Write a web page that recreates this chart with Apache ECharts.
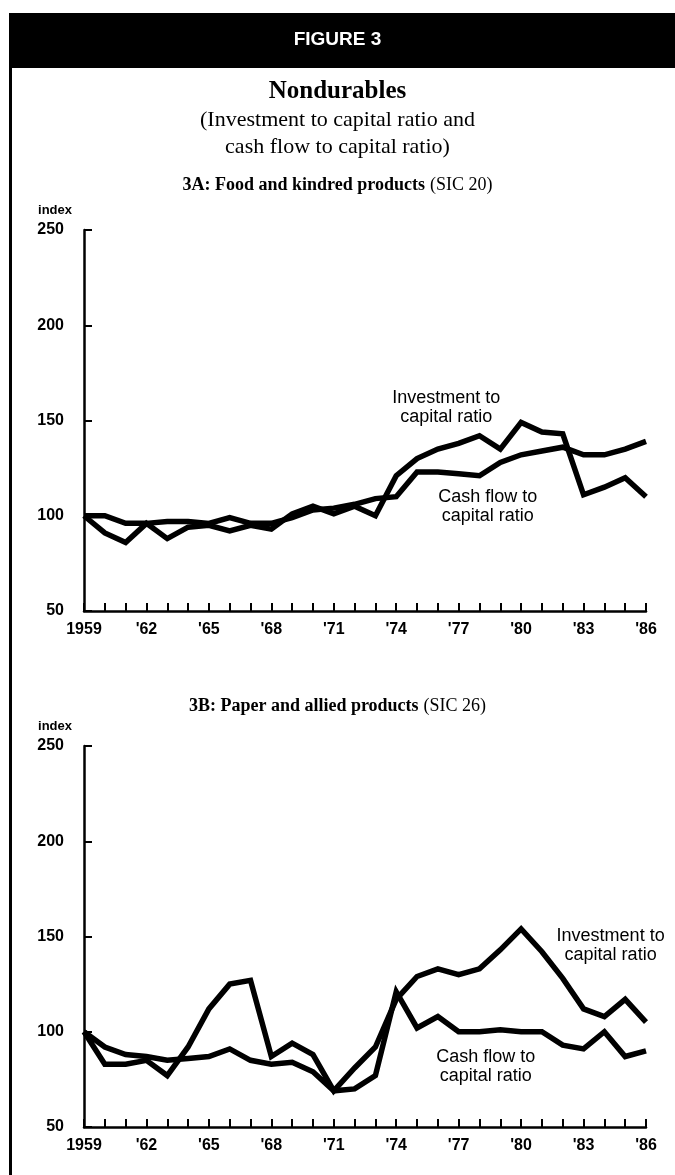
<!DOCTYPE html>
<html>
<head>
<meta charset="utf-8">
<script src="https://cdn.jsdelivr.net/npm/echarts@6/dist/echarts.min.js"></script>
<style>
  html, body { margin: 0; padding: 0; background: #fff; }
  #chart { width: 675px; height: 1175px; }
</style>
</head>
<body>
<div id="chart"></div>
<script>
// years on the x axis
const years = [1959, 1960, 1961, 1962, 1963, 1964, 1965, 1966, 1967, 1968,
  1969, 1970, 1971, 1972, 1973, 1974, 1975, 1976, 1977, 1978,
  1979, 1980, 1981, 1982, 1983, 1984, 1985, 1986]
const xLabelYears = [1959, 1962, 1965, 1968, 1971, 1974, 1977, 1980, 1983, 1986]
const xLabels = ['1959', "'62", "'65", "'68", "'71", "'74", "'77", "'80", "'83", "'86"]

// 3A: Food and kindred products
const foodInvest = [100, 91, 86, 96, 88, 94, 95, 92, 95, 93, 101, 105, 101, 105, 100,
  121, 130, 135, 138, 142, 135, 149, 144, 143, 111, 115, 120, 110]
const foodCash = [100, 100, 96, 96, 97, 97, 96, 99, 96, 96, 99, 103, 104, 106, 109,
  110, 123, 123, 122, 121, 128, 132, 134, 136, 132, 132, 135, 139]

// 3B: Paper and allied products
const paperInvest = [100, 83, 83, 85, 77, 92, 112, 125, 127, 87, 94, 88, 69, 81, 92,
  117, 129, 133, 130, 133, 143, 154, 142, 128, 112, 108, 117, 105]
const paperCash = [100, 92, 88, 87, 85, 86, 87, 91, 85, 83, 84, 79, 69, 70, 77,
  121, 102, 108, 100, 100, 101, 100, 100, 93, 91, 100, 87, 90]

// where the inline series labels sit, [year, index]
const investLabelAt = [[1976.4, 157], [1984.3, 145]]
const cashLabelAt = [[1978.4, 105], [1978.3, 82]]

const sans = '"Liberation Sans", Arial, Helvetica, sans-serif'
const serif = '"Liberation Serif", "Times New Roman", serif'

const chart = echarts.init(document.getElementById('chart'))

const pairs = (vals) => years.map((y, i) => [y, vals[i]])

const gridTops = [230, 746]
const gridHeight = 381

const xAxisFor = (i) => ({
  type: 'value',
  gridIndex: i,
  min: 1959,
  max: 1986,
  interval: 1,
  splitLine: { show: false },
  axisLine: { lineStyle: { color: '#000', width: 2.5 } },
  axisTick: { inside: true, length: 8, lineStyle: { color: '#000', width: 2 } },
  axisLabel: {
    color: '#000',
    fontFamily: sans,
    fontWeight: 'bold',
    fontSize: 16,
    margin: 11,
    formatter: (v) => {
      const k = xLabelYears.indexOf(v)
      return k < 0 ? '' : xLabels[k]
    },
  },
})

const yAxisFor = (i) => ({
  type: 'value',
  gridIndex: i,
  min: 50,
  max: 250,
  interval: 50,
  name: 'index',
  nameLocation: 'end',
  nameGap: 20,
  nameTextStyle: {
    color: '#000',
    fontFamily: sans,
    fontWeight: 'bold',
    fontSize: 13,
    align: 'right',
    verticalAlign: 'middle',
    padding: [0, 12, 0, 0],
  },
  splitLine: { show: false },
  axisLine: { onZero: false, lineStyle: { color: '#000', width: 2.5 } },
  axisTick: { inside: true, length: 8, lineStyle: { color: '#000', width: 2 } },
  axisLabel: {
    color: '#000',
    fontFamily: sans,
    fontWeight: 'bold',
    fontSize: 16,
    margin: 20,
  },
})

const lineLabel = (text) => ({
  show: true,
  position: 'inside',
  formatter: text,
  color: '#000',
  fontFamily: sans,
  fontSize: 18,
  lineHeight: 19,
  align: 'center',
})

const makeSeries = (i, vals, text, at) => ({
  type: 'line',
  xAxisIndex: i,
  yAxisIndex: i,
  data: pairs(vals),
  symbol: 'none',
  clip: false,
  lineStyle: { color: '#000', width: 5.5, join: 'miter', cap: 'butt' },
  markPoint: {
    symbol: 'rect',
    symbolSize: 1,
    silent: true,
    itemStyle: { color: 'rgba(0,0,0,0)' },
    label: lineLabel(text),
    data: [{ coord: at }],
  },
})

const titleLine = (text, top, rich) => ({
  text,
  left: 'center',
  top,
  padding: 0,
  textStyle: { rich },
})

const serifRich = (size) => ({
  b: { fontFamily: serif, fontWeight: 'bold', fontSize: size, color: '#000' },
  r: { fontFamily: serif, fontWeight: 'normal', fontSize: size, color: '#000' },
})

chart.setOption({
  animation: false,
  backgroundColor: '#fff',
  graphic: [
    { type: 'rect', left: 9, top: 13, shape: { width: 666, height: 55 }, style: { fill: '#000' } },
    { type: 'rect', left: 9, top: 13, shape: { width: 3, height: 1162 }, style: { fill: '#000' } },
  ],
  title: [
    {
      text: 'FIGURE 3',
      left: 'center',
      top: 30,
      padding: 0,
      textStyle: { color: '#fff', fontFamily: sans, fontWeight: 'bold', fontSize: 19 },
    },
    titleLine('{b|Nondurables}', 79, serifRich(25)),
    titleLine('{r|(Investment to capital ratio and}', 109, serifRich(22)),
    titleLine('{r|cash flow to capital ratio)}', 136, serifRich(22)),
    titleLine('{b|3A: Food and kindred products} {r|(SIC 20)}', 176, serifRich(18)),
    titleLine('{b|3B: Paper and allied products} {r|(SIC 26)}', 697, serifRich(18)),
  ],
  grid: gridTops.map((top) => ({ left: 84, right: 29, top, height: gridHeight })),
  xAxis: [xAxisFor(0), xAxisFor(1)],
  yAxis: [yAxisFor(0), yAxisFor(1)],
  series: [
    makeSeries(0, foodInvest, 'Investment to\ncapital ratio', investLabelAt[0]),
    makeSeries(0, foodCash, 'Cash flow to\ncapital ratio', cashLabelAt[0]),
    makeSeries(1, paperInvest, 'Investment to\ncapital ratio', investLabelAt[1]),
    makeSeries(1, paperCash, 'Cash flow to\ncapital ratio', cashLabelAt[1]),
  ],
})
</script>
</body>
</html>
